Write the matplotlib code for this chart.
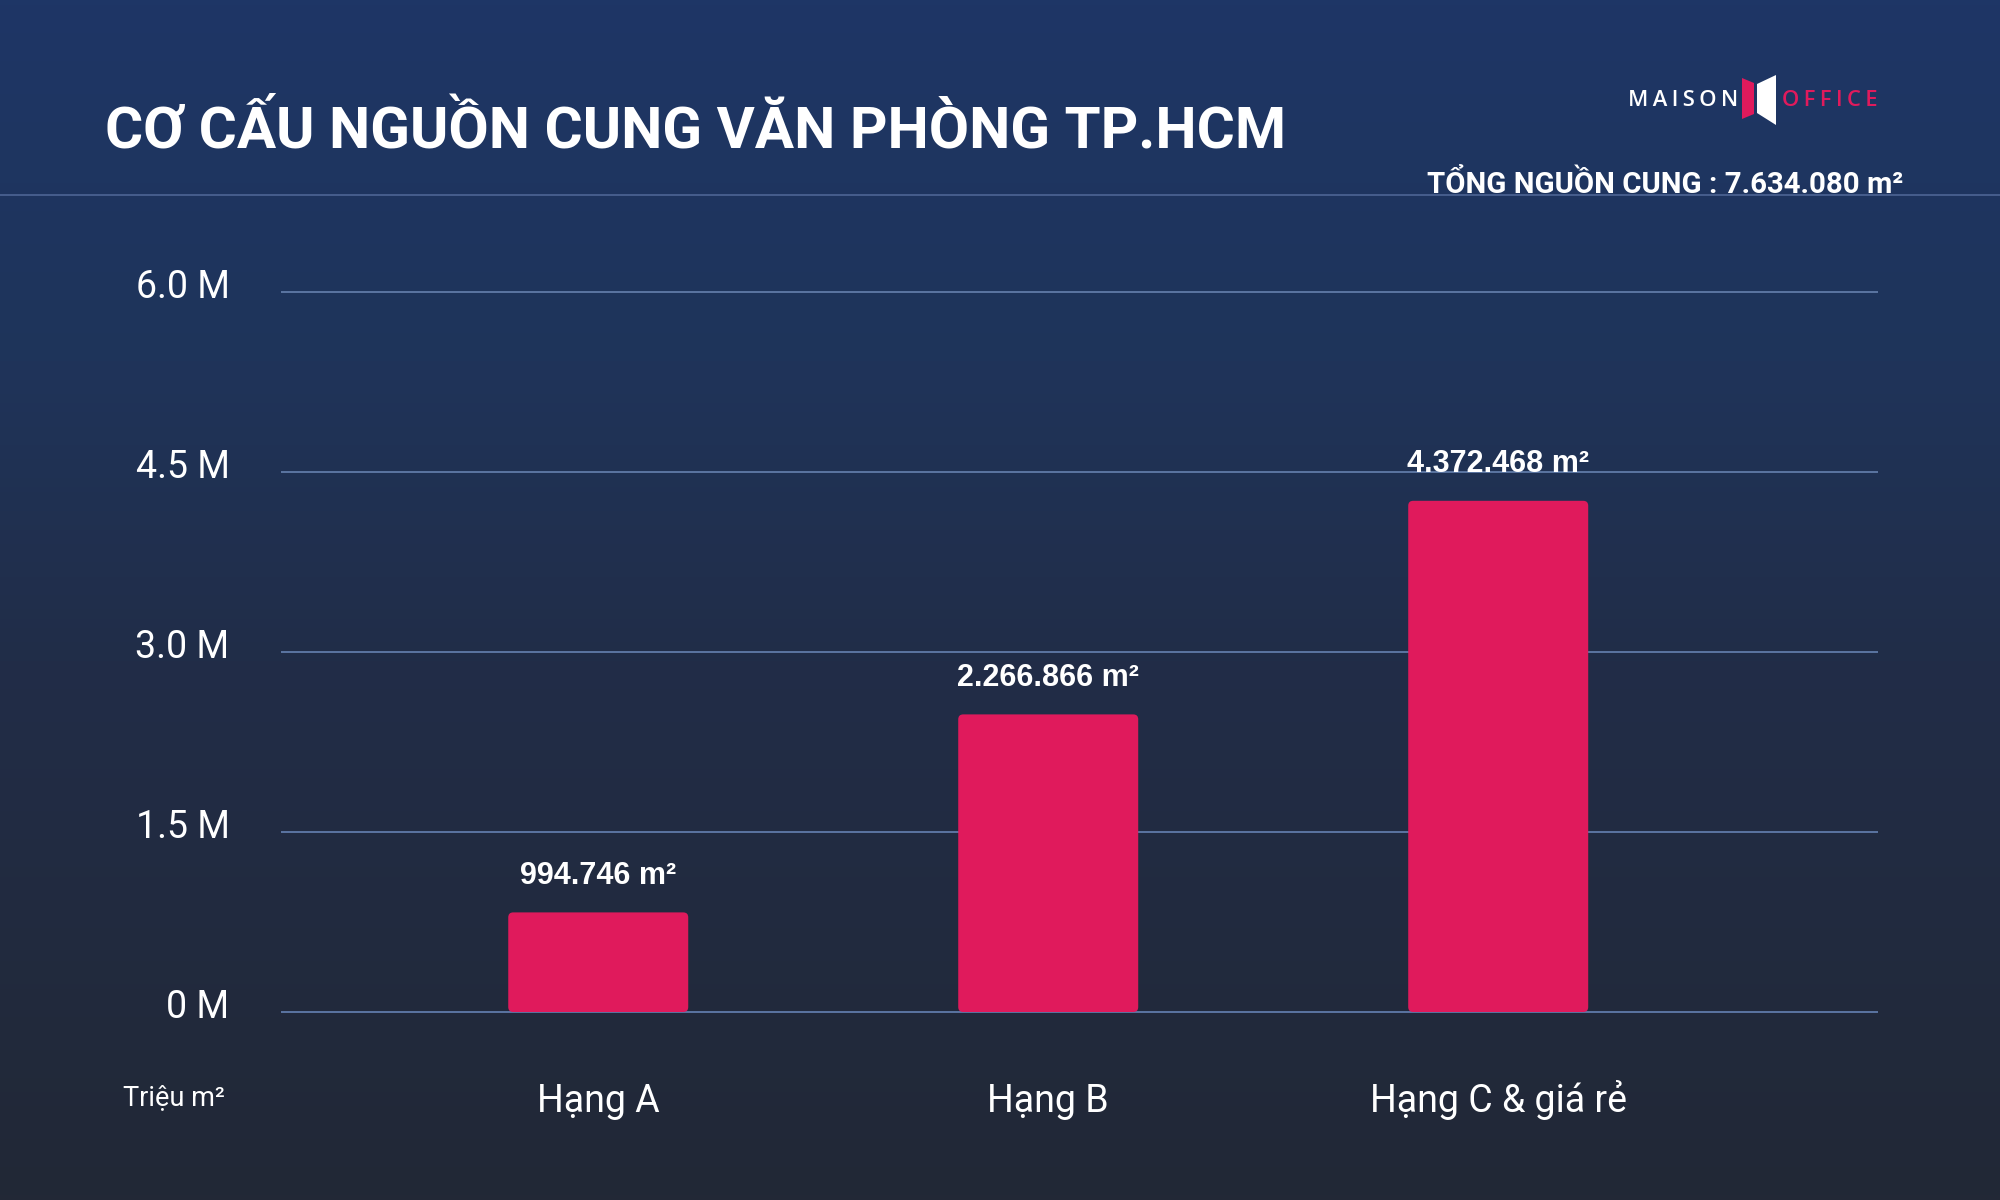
import matplotlib
matplotlib.use('Agg')
import matplotlib.pyplot as plt
import matplotlib.transforms as mtransforms
from matplotlib.patches import FancyBboxPatch, Polygon
from matplotlib.colors import LinearSegmentedColormap
import numpy as np

# Données (hauteurs, en millions de m2)
categories = ['Hạng A', 'Hạng B', 'Hạng C & giá rẻ']
bar_heights = [0.83, 2.48, 4.26]
value_labels = ['994.746 m²', '2.266.866 m²', '4.372.468 m²']
y_ticks = [0, 1.5, 3.0, 4.5, 6.0]
y_tick_labels = ['0 M', '1.5 M', '3.0 M', '4.5 M', '6.0 M']
title = 'CƠ CẤU NGUỒN CUNG VĂN PHÒNG TP.HCM'
total_label = 'TỔNG NGUỒN CUNG : 7.634.080 m²'
unit_label = 'Triệu m²'

# Polices
narrow = ['Roboto', 'DejaVu Sans']
wide = ['Liberation Sans', 'DejaVu Sans']
BAR_COLOR = '#e01a5c'
GRID_COLOR = '#5b75a2'

W, H = 2000, 1200
fig = plt.figure(figsize=(20, 12), dpi=100)


def fx(x):
    return x / W


def fy(y):
    return 1 - y / H


# Fond dégradé bleu -> gris foncé
bg = fig.add_axes([0, 0, 1, 1], zorder=-10)
cmap = LinearSegmentedColormap.from_list('bg', [
    (0.0, (30 / 255, 54 / 255, 102 / 255)),
    (0.3, (31 / 255, 52 / 255, 90 / 255)),
    (0.55, (33 / 255, 45 / 255, 72 / 255)),
    (1.0, (34 / 255, 40 / 255, 54 / 255)),
])
bg.imshow(np.linspace(0, 1, 256).reshape(-1, 1), cmap=cmap, aspect='auto',
          extent=[0, 1, 0, 1])
bg.axis('off')

# Ligne sous l'en-tête
fig.add_artist(plt.Line2D([0, 1], [fy(195), fy(195)], color='#4d6594', lw=1.2))

# Zone du graphique
ax = fig.add_axes([fx(281), fy(1018), fx(1878) - fx(281), 732 / H])
ax.set_facecolor('none')
x = np.arange(len(categories))
bars = ax.bar(x, bar_heights, width=0.4, color=BAR_COLOR)
for b in bars:
    p = FancyBboxPatch((b.get_x(), b.get_y()), b.get_width(), b.get_height(),
                       boxstyle='round,pad=0,rounding_size=0.011',
                       mutation_aspect=3.75, fc=BAR_COLOR, ec='none', zorder=3)
    ax.add_patch(p)
    b.remove()

for xi, h, lab in zip(x, bar_heights, value_labels):
    ax.annotate(lab, (xi, h), xytext=(0, 26.5), textcoords='offset points',
                ha='center', va='center', color='white', fontsize=22,
                fontweight='bold', family=wide, zorder=4)

ax.set_xlim(-0.705, 2.844)
ax.set_ylim(-0.05, 6.05)
ax.set_yticks(y_ticks)
ax.set_yticklabels(y_tick_labels, fontsize=27, color='white', family=narrow)
ax.set_xticks(x)
ax.set_xticklabels(categories, fontsize=27, color='white', family=narrow,
                   va='baseline')
ax.tick_params(axis='y', length=0, pad=37)
ax.tick_params(axis='x', length=0, pad=68)
shift = mtransforms.ScaledTranslation(0, 9 / 100, fig.dpi_scale_trans)
for lab in ax.get_yticklabels():
    lab.set_transform(lab.get_transform() + shift)
ax.grid(axis='y', color=GRID_COLOR, lw=1.4, zorder=0)
ax.set_axisbelow(True)
for s in ax.spines.values():
    s.set_visible(False)

# Titres et textes
fig.text(fx(105), fy(147), title, fontsize=42, fontweight='bold', color='white',
         family=narrow, va='baseline', ha='left')
fig.text(fx(1903), fy(193), total_label, fontsize=21.2, fontweight='bold',
         color='white', family=narrow, va='baseline', ha='right')
fig.text(fx(174), fy(1098), unit_label, fontsize=19.5, color='white',
         family=narrow, va='center', ha='center')

# Logo MAISON OFFICE
thin = '\u2009'
fig.text(fx(1628), fy(106), thin.join('MAISON'), fontsize=15.8, color='white',
         family=['Open Sans', 'DejaVu Sans'], fontweight='semibold', va='baseline')
fig.text(fx(1782), fy(106), thin.join('OFFICE'), fontsize=15.8, color=BAR_COLOR,
         family=['Open Sans', 'DejaVu Sans'], fontweight='semibold', va='baseline')
pink = [(1742, 78), (1754, 83), (1754, 114), (1742, 119)]
white = [(1757, 84), (1776, 75), (1776, 125), (1757, 113)]
fig.add_artist(Polygon([(fx(a), fy(b)) for a, b in pink], closed=True, fc=BAR_COLOR, ec='none'))
fig.add_artist(Polygon([(fx(a), fy(b)) for a, b in white], closed=True, fc='white', ec='none'))

plt.savefig('out.png', dpi=100)
